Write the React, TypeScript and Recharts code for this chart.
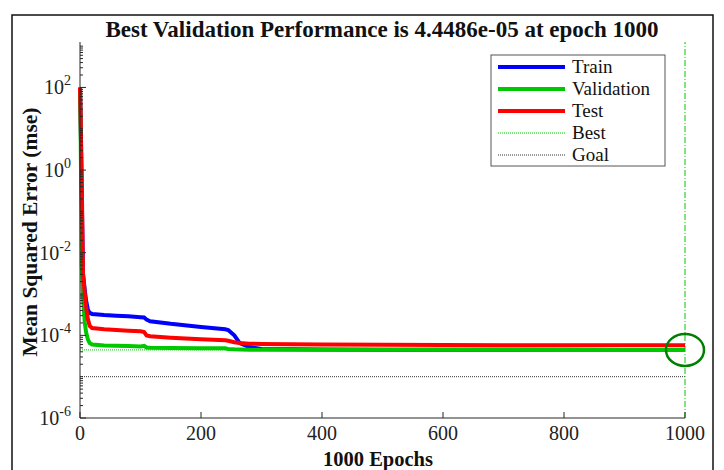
import React from 'react';
import {
  LineChart,
  Line,
  XAxis,
  YAxis,
  ReferenceLine,
  ReferenceDot,
} from 'recharts';

// Training record, sampled at the epochs where the curves change shape
const epochs = [0, 1, 2, 3, 5, 8, 10, 13, 16, 20, 40, 60, 80, 100, 106, 110, 116, 150, 200, 240, 245, 255, 264, 280, 300, 350, 400, 500, 600, 700, 800, 900, 1000];
const trainPerf = [95, 20, 2, 0.2, 3e-3, 1.2e-3, 7e-4, 4.2e-4, 3.5e-4, 3.3e-4, 3.1e-4, 3.0e-4, 2.9e-4, 2.75e-4, 2.7e-4, 2.4e-4, 2.2e-4, 1.9e-4, 1.6e-4, 1.4e-4, 1.35e-4, 1.0e-4, 6.5e-5, 5.2e-5, 4.7e-5, 4.6e-5, 4.55e-5, 4.5e-5, 4.48e-5, 4.47e-5, 4.46e-5, 4.45e-5, 4.45e-5];
const valPerf = [100, 10, 0.3, 5e-3, 8e-4, 2e-4, 1.2e-4, 8e-5, 6.5e-5, 6e-5, 5.7e-5, 5.6e-5, 5.5e-5, 5.4e-5, 5.6e-5, 5.1e-5, 5.0e-5, 4.95e-5, 4.9e-5, 4.85e-5, 4.7e-5, 4.6e-5, 4.55e-5, 4.5e-5, 4.5e-5, 4.49e-5, 4.48e-5, 4.47e-5, 4.46e-5, 4.455e-5, 4.45e-5, 4.449e-5, 4.4486e-5];
const testPerf = [100, 25, 3, 0.4, 3e-3, 1e-3, 5e-4, 2.5e-4, 1.7e-4, 1.5e-4, 1.4e-4, 1.35e-4, 1.3e-4, 1.25e-4, 1.2e-4, 1.0e-4, 9.5e-5, 8.8e-5, 8.0e-5, 7.6e-5, 7.4e-5, 6.8e-5, 6.5e-5, 6.3e-5, 6.2e-5, 6.1e-5, 6.0e-5, 5.9e-5, 5.85e-5, 5.8e-5, 5.8e-5, 5.75e-5, 5.75e-5];

const bestEpoch = 1000;
const bestPerf = 4.4486e-5;
const goal = 1e-5;

const xTicks = [0, 200, 400, 600, 800, 1000];
const yTop = Math.pow(10, 3.1);
// decades plus 2..9 minor ticks, like a matlab log axis
const yTicks: number[] = [];
for (let k = -6; k <= 2; k++) {
  for (let m = 1; m <= 9; m++) yTicks.push(m * Math.pow(10, k));
}
yTicks.push(1000);

const data = epochs.map((e, i) => ({
  epoch: e,
  train: trainPerf[i],
  validation: valPerf[i],
  test: testPerf[i],
}));

const AXIS = '#262626';
const FONT = '"Liberation Serif", "Times New Roman", serif';
const BLUE = '#0000ff';
const GREEN = '#00c800';
const RED = '#ff0000';
const DARK_GREEN = '#007f00';

function LogTick(props: any) {
  const { x, y, payload } = props;
  const exp = Math.log10(payload.value);
  const decade = Math.abs(exp - Math.round(exp)) < 1e-6;
  const labelled = decade && Math.round(exp) % 2 === 0;
  return (
    <g>
      <line x1={x} x2={x + (labelled ? 6 : 3)} y1={y} y2={y} stroke={AXIS} strokeWidth={1} />
      {labelled && (
        <text x={x - 9} y={y + 7} textAnchor="end" fontFamily={FONT} fontSize={20} fill="#222">
          <tspan>10</tspan>
          <tspan dy={-9} fontSize={14}>{Math.round(exp)}</tspan>
        </text>
      )}
    </g>
  );
}

function EpochTick(props: any) {
  const { x, y, payload } = props;
  return (
    <g>
      <line x1={x} x2={x} y1={y} y2={y - 6} stroke={AXIS} strokeWidth={1} />
      <text x={x} y={y + 22} textAnchor="middle" fontFamily={FONT} fontSize={20} fill="#222">
        {payload.value}
      </text>
    </g>
  );
}

function BestMarker(props: any) {
  const { cx, cy } = props;
  return <ellipse cx={cx} cy={cy} rx={19} ry={16} fill="none" stroke={DARK_GREEN} strokeWidth={2.5} />;
}

const legendItems = [
  { label: 'Train', color: BLUE, width: 4, dash: undefined },
  { label: 'Validation', color: GREEN, width: 4, dash: undefined },
  { label: 'Test', color: RED, width: 4, dash: undefined },
  { label: 'Best', color: GREEN, width: 1, dash: '1 1' },
  { label: 'Goal', color: '#333', width: 1, dash: '1 1' },
];

export default function App() {
  return (
    <div style={{ position: 'absolute', left: 0, top: 0, width: 724, height: 470, background: '#fff' }}>
      <LineChart width={724} height={470} data={data} margin={{ top: 42, right: 39, bottom: 22, left: 0 }}>
        <XAxis
          dataKey="epoch"
          type="number"
          domain={[0, 1000]}
          ticks={xTicks}
          interval={0}
          tick={<EpochTick />}
          tickLine={false}
          tickSize={0}
          tickMargin={0}
          axisLine={{ stroke: AXIS }}
          height={30}
        />
        <YAxis
          type="number"
          scale="log"
          domain={[1e-6, yTop]}
          allowDataOverflow
          ticks={yTicks}
          interval={0}
          tick={<LogTick />}
          tickLine={false}
          tickSize={0}
          tickMargin={0}
          axisLine={{ stroke: AXIS }}
          width={80}
        />
        <ReferenceLine y={goal} stroke="#333" strokeDasharray="1 1" strokeWidth={1} />
        <ReferenceLine y={bestPerf} stroke={GREEN} strokeDasharray="1 1" strokeWidth={1} />
        <ReferenceLine x={bestEpoch} stroke={GREEN} strokeDasharray="6 2 1 2" strokeWidth={1} />
        <Line dataKey="train" type="linear" stroke={BLUE} strokeWidth={4} dot={false} isAnimationActive={false} />
        <Line dataKey="validation" type="linear" stroke={GREEN} strokeWidth={4} dot={false} isAnimationActive={false} />
        <Line dataKey="test" type="linear" stroke={RED} strokeWidth={4} dot={false} isAnimationActive={false} />
        <ReferenceDot x={bestEpoch} y={bestPerf} shape={<BestMarker />} />
      </LineChart>

      {/* figure frame, title, axis titles and legend */}
      <svg width={724} height={470} style={{ position: 'absolute', left: 0, top: 0, pointerEvents: 'none' }}>
        <rect x={12} y={15} width={701} height={470} fill="none" stroke="#111" strokeWidth={1.5} />
        <text x={382} y={37} textAnchor="middle" fontFamily={FONT} fontWeight="bold" fontSize={23} fill="#111">
          Best Validation Performance is 4.4486e-05 at epoch 1000
        </text>
        <text x={378} y={466} textAnchor="middle" fontFamily={FONT} fontWeight="bold" fontSize={20.5} fill="#111">
          1000 Epochs
        </text>
        <text
          transform="translate(37, 232) rotate(-90)"
          textAnchor="middle"
          fontFamily={FONT}
          fontWeight="bold"
          fontSize={21.5}
          fill="#111"
        >
          Mean Squared Error  (mse)
        </text>
        <rect x={491} y={55} width={174} height={111} fill="#fff" stroke="#555" strokeWidth={1} />
        {legendItems.map((item, i) => {
          const cy = 67 + i * 22;
          return (
            <g key={item.label}>
              <line x1={498} x2={565} y1={cy} y2={cy} stroke={item.color} strokeWidth={item.width} strokeDasharray={item.dash} />
              <text x={572} y={cy + 6} fontFamily={FONT} fontSize={19} fill="#111">
                {item.label}
              </text>
            </g>
          );
        })}
      </svg>
    </div>
  );
}
